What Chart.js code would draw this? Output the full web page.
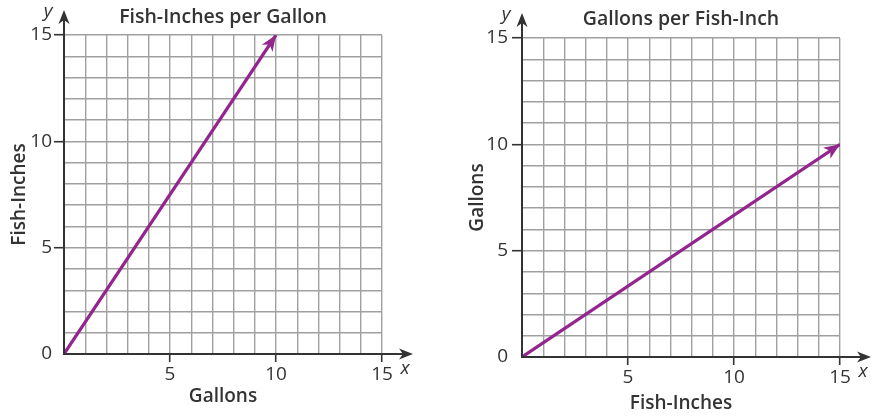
<!DOCTYPE html>
<html><head><meta charset="utf-8">
<script src="https://cdn.jsdelivr.net/npm/chart.js@4.4.1/dist/chart.umd.min.js"></script>
<style>
html,body{margin:0;padding:0;background:#fff;}
#wrap{display:flex;width:880px;height:416px;}
canvas{display:block;}
</style>
</head><body>
<div id="wrap"><canvas id="c1" width="440" height="416"></canvas><canvas id="c2" width="440" height="416"></canvas></div>
<script>
// ---- data ----
const leftTitle = 'Fish-Inches per Gallon';
const leftXTitle = 'Gallons';
const leftYTitle = 'Fish-Inches';
const leftX = [0, 10];
const leftY = [0, 15];

const rightTitle = 'Gallons per Fish-Inch';
const rightXTitle = 'Fish-Inches';
const rightYTitle = 'Gallons';
const rightX = [0, 15];
const rightY = [0, 10];

const xTickLabels = [5, 10, 15];
const yTickLabels = [0, 5, 10, 15];
const axisMin = 0, axisMax = 15, gridStep = 1;

// ---- styles ----
const PURPLE = '#93258e';
const AXIS = '#333333';
const GRID = '#a0a0a0';
const FONT = '"Open Sans", "Noto Sans", sans-serif';

function arrow(ctx, x, y, ang, len, hw) {
  ctx.save();
  ctx.translate(x, y);
  ctx.rotate(ang);
  ctx.beginPath();
  ctx.moveTo(0, 0);
  ctx.lineTo(-len, -hw);
  ctx.lineTo(-len * 0.72, 0);
  ctx.lineTo(-len, hw);
  ctx.closePath();
  ctx.fill();
  ctx.restore();
}

const axesPlugin = {
  id: 'axesArrows',
  afterDatasetsDraw(chart) {
    const { ctx, chartArea: a } = chart;
    const xs = chart.scales.x, ys = chart.scales.y;
    const ox = xs.getPixelForValue(0), oy = ys.getPixelForValue(0);
    ctx.save();
    ctx.strokeStyle = AXIS; ctx.fillStyle = AXIS; ctx.lineWidth = 2;
    const xEnd = a.right + 31, yEnd = a.top - 25;
    ctx.beginPath(); ctx.moveTo(ox - 1, oy); ctx.lineTo(xEnd - 6, oy); ctx.stroke();
    ctx.beginPath(); ctx.moveTo(ox, oy + 1); ctx.lineTo(ox, yEnd + 6); ctx.stroke();
    arrow(ctx, xEnd, oy, 0, 14, 5.5);
    arrow(ctx, ox, yEnd, -Math.PI / 2, 14, 5.5);
    ctx.font = 'italic 19px ' + FONT;
    ctx.textAlign = 'center'; ctx.textBaseline = 'middle';
    ctx.fillText('x', a.right + 23, oy + 15);
    ctx.fillText('y', ox - 16, a.top - 23);
    const pts = chart.getDatasetMeta(0).data;
    const p1 = pts[pts.length - 2], p2 = pts[pts.length - 1];
    const ang = Math.atan2(p2.y - p1.y, p2.x - p1.x);
    ctx.fillStyle = PURPLE;
    arrow(ctx, p2.x, p2.y, ang, 16, 6.5);
    ctx.restore();
  }
};

function makeChart(id, title, xTitle, yTitle, xs, ys, L) {
  const tickColor = (c) => (c.tick && c.tick.value % 5 === 0 && c.tick.value !== 0) ? AXIS : 'rgba(0,0,0,0)';
  return new Chart(document.getElementById(id), {
    type: 'scatter',
    data: {
      datasets: [{
        data: xs.map((x, i) => ({ x: x, y: ys[i] })),
        showLine: true,
        borderColor: PURPLE,
        borderWidth: 3.2,
        pointRadius: 0,
        fill: false
      }]
    },
    options: {
      responsive: false,
      animation: false,
      devicePixelRatio: 1,
      layout: { padding: { left: 0, right: L.padRight, top: 0, bottom: 0 } },
      plugins: {
        legend: { display: false },
        tooltip: { enabled: false },
        title: {
          display: true, text: title, color: AXIS, fullSize: false,
          font: { family: FONT, size: 19.5, weight: '600' },
          padding: { top: L.titleTop, bottom: L.titleBottom }
        }
      },
      scales: {
        x: {
          type: 'linear', min: axisMin, max: axisMax,
          afterFit: (s) => { s.height = L.xHeight; },
          border: { display: false },
          grid: { color: GRID, lineWidth: 1.4, drawTicks: true, tickLength: 8, tickColor: tickColor, tickWidth: 1.6 },
          ticks: {
            stepSize: gridStep, autoSkip: false, maxRotation: 0, color: AXIS, padding: 1,
            font: { family: FONT, size: 19 },
            callback: (v) => xTickLabels.includes(v) ? String(v) : ''
          },
          title: { display: true, text: xTitle, color: AXIS, font: { family: FONT, size: 19, weight: '600' }, padding: { top: 0, bottom: L.xTitlePad } }
        },
        y: {
          type: 'linear', min: axisMin, max: axisMax,
          afterFit: (s) => { s.width = L.yWidth; },
          border: { display: false },
          grid: { color: GRID, lineWidth: 1.4, drawTicks: true, tickLength: 10, tickColor: tickColor, tickWidth: 1.6 },
          ticks: {
            stepSize: gridStep, autoSkip: false, color: AXIS, padding: L.yTickPad,
            font: { family: FONT, size: 19 },
            callback: (v) => yTickLabels.includes(v) ? String(v) : ''
          },
          title: { display: true, text: yTitle, color: AXIS, font: { family: FONT, size: 19, weight: '600' }, padding: { top: L.yTitlePad, bottom: 0 } }
        }
      }
    },
    plugins: [axesPlugin]
  });
}

makeChart('c1', leftTitle, leftXTitle, leftYTitle, leftX, leftY,
  { padRight: 58, titleTop: 6, titleBottom: 5.6, xHeight: 62, xTitlePad: 7.6, yWidth: 64, yTickPad: 2, yTitlePad: 8.6 });
makeChart('c2', rightTitle, rightXTitle, rightYTitle, rightX, rightY,
  { padRight: 40, titleTop: 8, titleBottom: 6.6, xHeight: 59, xTitlePad: 0.6, yWidth: 82, yTickPad: 4, yTitlePad: 26.6 });
</script>
</body></html>
